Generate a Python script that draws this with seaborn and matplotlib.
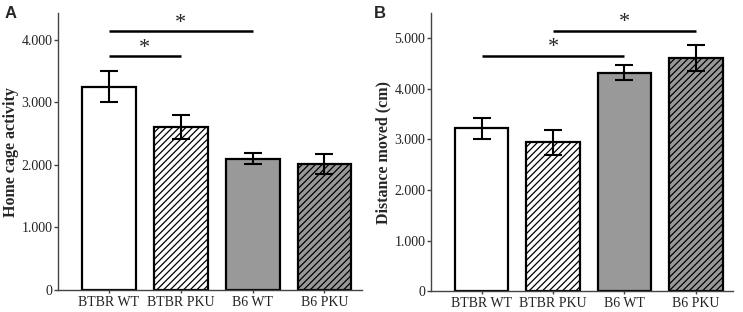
import matplotlib
matplotlib.use("Agg")
import matplotlib.pyplot as plt
import matplotlib.ticker as mticker
import seaborn as sns
import pandas as pd
import numpy as np

groups = ["BTBR WT", "BTBR PKU", "B6 WT", "B6 PKU"]
home_cage = [3250, 2600, 2100, 2010]
home_cage_err = [245, 190, 95, 160]
distance = [3220, 2945, 4320, 4610]
distance_err = [210, 245, 150, 255]
# significance brackets: (group i, group j, height)
sig_a = [(0, 1, 3730), (0, 2, 4130)]
sig_b = [(0, 2, 4660), (1, 3, 5150)]

fills = ["white", "white", "#999999", "#999999"]
hatches = ["", "/////", "", "/////"]

sns.set_style("white")
plt.rcParams["hatch.linewidth"] = 0.9
plt.rcParams["hatch.color"] = "black"

fig = plt.figure(figsize=(7.43, 3.12), dpi=100)
axA = fig.add_axes([0.078, 0.0705, 0.409, 0.887])
axB = fig.add_axes([0.580, 0.067, 0.4065, 0.891])

serif = "Liberation Serif"


def thousands(x, pos):
    return f"{int(round(x)):,}".replace(",", ".")


def panel(ax, vals, errs, ylabel, ymax, step, sigs, letter, lx):
    df = pd.DataFrame({"group": groups, "value": vals})
    sns.barplot(data=df, x="group", y="value", order=groups, ax=ax,
                palette=fills, hue="group", legend=False, width=0.75,
                edgecolor="black", linewidth=1.6, errorbar=None, saturation=1)
    for patch, h in zip(ax.patches, hatches):
        patch.set_hatch(h)
    x = np.arange(len(groups))
    ax.errorbar(x, vals, yerr=errs, fmt="none", ecolor="black", elinewidth=1.5,
                capsize=6.5, capthick=1.5, zorder=5)
    for i, j, h in sigs:
        ax.plot([i, j], [h, h], color="black", lw=1.8, solid_capstyle="butt",
                clip_on=False)
        ax.text((i + j) / 2, h - ymax * 0.005, "*", ha="center", va="bottom",
                fontsize=16, family=serif)
    ax.set_ylim(0, ymax)
    ax.set_xlim(-0.71, 3.52)
    ax.yaxis.set_major_locator(mticker.MultipleLocator(step))
    ax.yaxis.set_major_formatter(mticker.FuncFormatter(thousands))
    ax.set_xlabel("")
    ax.set_ylabel(ylabel, family=serif, fontweight="bold", fontsize=11.5,
                  labelpad=2)
    for s in ["top", "right"]:
        ax.spines[s].set_visible(False)
    for s in ["left", "bottom"]:
        ax.spines[s].set_color("#444444")
        ax.spines[s].set_linewidth(1.0)
    ax.tick_params(axis="y", which="major", left=True, length=3, width=1,
                   color="#444444", labelsize=10, pad=1)
    ax.tick_params(axis="x", which="major", bottom=True, length=2, width=1,
                   color="#444444", labelsize=10, pad=2)
    for lab in ax.get_xticklabels() + ax.get_yticklabels():
        lab.set_family(serif)
        lab.set_color("#222222")
    ax.text(lx, 1.0, letter, transform=ax.transAxes, fontsize=12,
            fontweight="bold", family="Liberation Sans", va="center")


panel(axA, home_cage, home_cage_err, "Home cage activity", 4420, 1000, sig_a, "A", -0.175)
panel(axB, distance, distance_err, "Distance moved (cm)", 5500, 1000, sig_b, "B", -0.19)

fig.savefig("out.png", dpi=100)
